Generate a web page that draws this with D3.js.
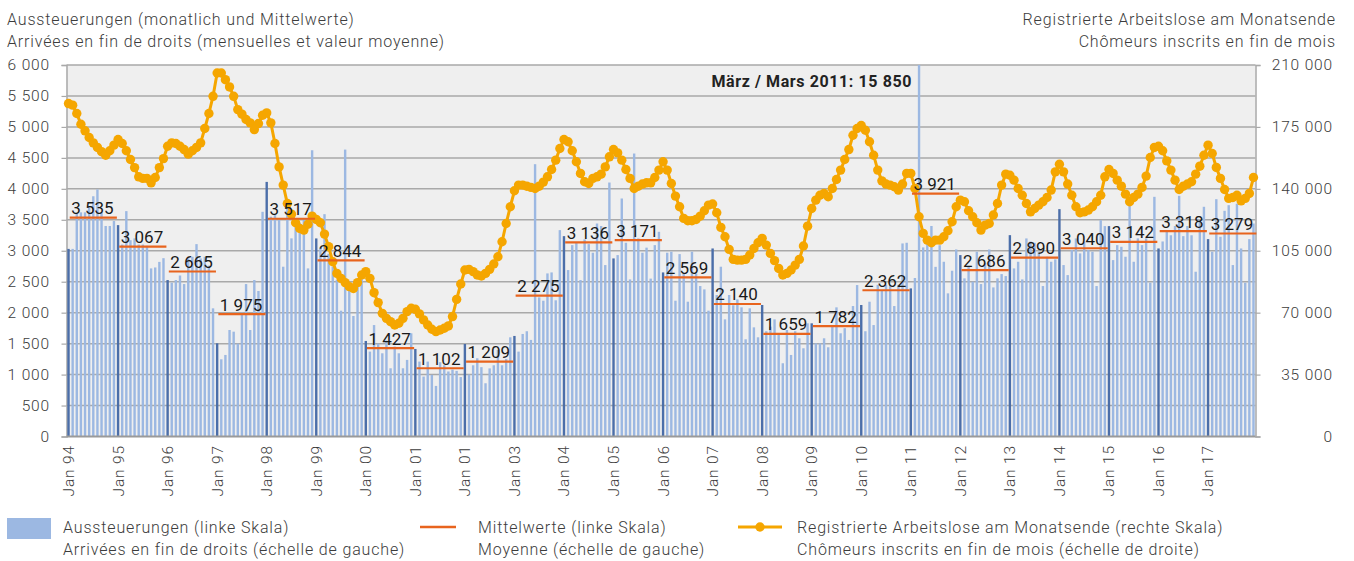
<!DOCTYPE html>
<html>
<head>
<meta charset="utf-8">
<script src="https://cdn.jsdelivr.net/npm/d3@7"></script>
<style>
  body { margin: 0; background: #fff; }
  svg text { font-family: Roboto, "Noto Sans", sans-serif; }
</style>
</head>
<body>
<div class="vis-chart"></div>
<script>
// x tick labels (one per January, as printed in the source)
const tickLabels = ["Jan 94", "Jan 95", "Jan 96", "Jan 97", "Jan 98", "Jan 99", "Jan 00", "Jan 01",
    "Jan 01", "Jan 03", "Jan 04", "Jan 05", "Jan 06", "Jan 07", "Jan 08", "Jan 09", "Jan 10",
    "Jan 11", "Jan 12", "Jan 13", "Jan 14", "Jan 15", "Jan 16", "Jan 17"];

// Aussteuerungen, monthly, Jan 1994 - Dec 2017 (one row per year)
const aussteuerungen = [
    3030, 3030, 3600, 3620, 3620, 3700, 3880, 3990, 3620, 3400, 3400, 3480,
    3414, 3100, 3640, 3170, 3200, 3100, 3100, 3080, 2715, 2730, 2820, 2880,
    2527, 2484, 2527, 2600, 2462, 2876, 2903, 3107, 2876, 2903, 2760, 2070,
    1505, 1247, 1317, 1720, 1693, 1500, 2000, 2462, 1720, 2527, 2350, 3629,
    4112, 3550, 3575, 3500, 2742, 3700, 3200, 3400, 3450, 3500, 2715, 4623,
    3199, 3050, 3591, 2950, 2742, 2527, 2032, 4634, 2365, 1946, 2450, 2600,
    1543, 1371, 1800, 1500, 1344, 1550, 1102, 1452, 1344, 1102, 1237, 1667,
    1414, 1210, 968, 1210, 995, 817, 1200, 1150, 1050, 1080, 1060, 960,
    1494, 1000, 1150, 1263, 1120, 860, 1100, 1150, 1398, 1150, 1250, 1602,
    1624, 1371, 1656, 1700, 1560, 4398, 2247, 2193, 2634, 2650, 2200, 3333,
    3236, 2688, 3091, 3129, 2527, 3183, 3107, 2968, 3440, 3400, 2769, 4102,
    2876, 2930, 3844, 3129, 2537, 4570, 3199, 2968, 3050, 2550, 3091, 3306,
    2650, 2968, 2984, 2193, 2946, 2634, 2177, 2984, 2634, 2430, 2376, 2032,
    3037, 2285, 2742, 1892, 2285, 2120, 2215, 2086, 1570, 2070, 1763, 1602,
    2124, 1700, 1774, 1892, 1656, 1183, 1720, 1317, 1700, 1586, 1425, 1828,
    1828, 1505, 1505, 1586, 1441, 1800, 2086, 1667, 1750, 1559, 2107, 2446,
    2124, 1700, 2177, 1800, 2450, 2365, 2450, 2450, 2107, 2450, 3118, 3129,
    2392, 2560, 15850, 3054, 3129, 3400, 2740, 3090, 2822, 2312, 2677, 3021,
    2930, 2554, 2752, 2500, 2984, 2462, 2800, 3021, 2408, 2554, 2623, 2591,
    3252, 2715, 2822, 2537, 3199, 3150, 3129, 2984, 2430, 2903, 2822, 2860,
    3672, 2769, 2607, 3011, 3199, 2957, 3145, 3011, 2984, 2430, 3494, 3398,
    3398, 2849, 3091, 3064, 2903, 3726, 2822, 3200, 3091, 3200, 2484, 3871,
    3037, 3150, 3306, 3250, 3400, 3887, 3236, 3400, 3250, 2661, 3505, 3710,
    3188, 2984, 3833, 3226, 3645, 3736, 2769, 3760, 3037, 2484, 3188, 3440
];

// yearly means (Mittelwerte)
const mittelwerte = [3535, 3067, 2665, 1975, 3517, 2844, 1427, 1102, 1209, 2275, 3136, 3171,
    2569, 2140, 1659, 1782, 2362, 3921, 2686, 2890, 3040, 3142, 3318, 3279];

// registrierte Arbeitslose am Monatsende
const arbeitslose = [
    188200, 187300, 182600, 176500, 172800, 169000, 166000, 163400, 161000, 159000, 161500, 164700,
    167900, 165600, 161500, 156600, 152000, 146800, 145900, 145900, 143400, 146400, 152000, 157100,
    164100, 166000, 165600, 164100, 162200, 159600, 161500, 163400, 166000, 174100, 182600, 192300,
    205500, 205500, 201700, 197600, 192300, 184800, 182200, 179200, 177300, 173500, 176900, 181600,
    182900, 177300, 165600, 152400, 142100, 131700, 125700, 120800, 117600, 116700, 120000, 124600,
    122700, 120800, 114400, 107300, 98800, 92200, 89400, 87000, 84700, 83700, 87000, 91300,
    93200, 89400, 81300, 75700, 69600, 66800, 64900, 63000, 64000, 66800, 70600, 72500,
    71900, 69300, 65900, 63000, 60600, 59300, 60200, 61200, 62500, 67800, 77500, 86200,
    94100, 94500, 93200, 91300, 90700, 92200, 94500, 97500, 101600, 110100, 120400, 129900,
    138900, 142100, 142100, 141500, 140800, 140200, 141500, 143800, 146800, 150900, 156200, 162800,
    167900, 166600, 161500, 155300, 148700, 144000, 143000, 145900, 146800, 148300, 152400, 158100,
    162200, 160300, 156200, 150900, 145900, 140200, 141500, 142700, 143400, 143400, 146400, 150600,
    155300, 150600, 143000, 135900, 129900, 123300, 122000, 122000, 122700, 124600, 127600, 130800,
    131400, 126500, 118200, 112900, 105800, 100100, 99700, 99700, 100100, 102600, 106300, 109500,
    112000, 108200, 103500, 99400, 95000, 91300, 92200, 94100, 96900, 100100, 107700, 118900,
    128900, 133600, 136400, 137400, 135500, 140200, 145300, 150600, 156600, 162200, 170300, 174100,
    175800, 173100, 166600, 159000, 150600, 144500, 142700, 142100, 141200, 139300, 142700, 148700,
    148700, 140200, 124200, 114800, 111000, 109500, 111000, 111000, 112900, 116300, 121400, 129900,
    133600, 132700, 127600, 124200, 120800, 116700, 119500, 120400, 125200, 131700, 142100, 148300,
    147700, 144900, 140200, 136400, 131700, 127000, 128900, 130800, 132700, 135100, 139300, 149600,
    153900, 149600, 142700, 136400, 129900, 126500, 127000, 128000, 129900, 132700, 136400, 146800,
    150900, 148700, 144900, 141500, 137000, 132700, 135100, 137000, 140800, 147200, 157700, 163400,
    164100, 161500, 155800, 150600, 144900, 139600, 141500, 142700, 144000, 148300, 152800, 159000,
    164700, 160000, 152100, 145900, 139600, 134600, 135100, 136400, 133200, 134600, 137400, 146400
];

const noteText = "März / Mars 2011: 15 850";

const config = {
    width: 1354, height: 561,
    left: 66.5, right: 1255.5, top: 65, bottom: 436.5,
    bar: "#9cb8e2", barJan: "#4b6ea9", mean: "#e8641e", line: "#f5a600",
    grid: "#a9a9a9", bg: "#efefef", text: "#3c3c3c",
    spacing: "0.85px"
};

const fmt = d3.formatLocale({ decimal: ".", thousands: " ", grouping: [3], currency: ["", ""] }).format(",d");

const svg = d3.select(".vis-chart")
    .append("svg")
    .attr("width", config.width)
    .attr("height", config.height);

const n = aussteuerungen.length;
const x = d3.scaleBand()
    .domain(d3.range(n))
    .range([config.left, config.right])
    .paddingInner(0.42)
    .paddingOuter(0.2);
const bw = x.bandwidth();
const cx = i => x(i) + bw / 2;
const yL = d3.scaleLinear().domain([0, 6000]).range([config.bottom, config.top]);
const yR = d3.scaleLinear().domain([0, 210000]).range([config.bottom, config.top]);

// plot area
svg.append("rect")
    .attr("x", config.left)
    .attr("y", config.top)
    .attr("width", config.right - config.left)
    .attr("height", config.bottom - config.top)
    .attr("fill", config.bg);

svg.append("clipPath").attr("id", "plot-clip")
    .append("rect")
    .attr("x", config.left)
    .attr("y", config.top)
    .attr("width", config.right - config.left)
    .attr("height", config.bottom - config.top);

// gridlines
svg.append("g")
    .selectAll("line")
    .data(d3.range(500, 6001, 500))
    .join("line")
    .attr("x1", config.left)
    .attr("x2", config.right)
    .attr("y1", d => yL(d))
    .attr("y2", d => yL(d))
    .attr("stroke", config.grid)
    .attr("stroke-width", 1.5);

// left axis
const axL = svg.append("g")
    .attr("transform", `translate(${config.left},0)`)
    .call(d3.axisLeft(yL).tickValues(d3.range(0, 6001, 500)).tickFormat(fmt).tickSize(5).tickPadding(11.5));
// right axis
const axR = svg.append("g")
    .attr("transform", `translate(${config.right},0)`)
    .call(d3.axisRight(yR).tickValues(d3.range(0, 210001, 35000)).tickFormat(fmt).tickSize(5));
axR.selectAll("text").attr("text-anchor", "end").attr("x", 1333 - config.right);

[axL, axR].forEach(ax => {
    ax.select(".domain").attr("stroke", config.grid).attr("stroke-width", 1.5);
    ax.selectAll(".tick line").attr("stroke", config.grid).attr("stroke-width", 1.2);
    ax.selectAll("text")
        .attr("font-size", "15.5px")
        .attr("font-family", "Roboto")
        .attr("font-weight", 300)
        .attr("letter-spacing", config.spacing)
        .attr("fill", config.text);
});

// bars
svg.append("g")
    .attr("clip-path", "url(#plot-clip)")
    .selectAll("rect")
    .data(aussteuerungen)
    .join("rect")
    .attr("x", (d, i) => x(i))
    .attr("y", d => yL(d))
    .attr("width", bw)
    .attr("height", d => config.bottom - yL(d))
    .attr("fill", (d, i) => i % 12 === 0 ? config.barJan : config.bar);

// bottom axis line
svg.append("line")
    .attr("x1", config.left)
    .attr("x2", config.right)
    .attr("y1", config.bottom)
    .attr("y2", config.bottom)
    .attr("stroke", "#9a9a9a")
    .attr("stroke-width", 2);

// unemployed line
const line = d3.line()
    .x((d, i) => cx(i))
    .y(d => yR(d));

svg.append("path")
    .datum(arbeitslose)
    .attr("d", line)
    .attr("fill", "none")
    .attr("stroke", config.line)
    .attr("stroke-width", 3);

svg.append("g")
    .selectAll("circle")
    .data(arbeitslose)
    .join("circle")
    .attr("cx", (d, i) => cx(i))
    .attr("cy", d => yR(d))
    .attr("r", 4.7)
    .attr("fill", config.line);

// yearly means
const means = svg.append("g");
means.selectAll("line")
    .data(mittelwerte)
    .join("line")
    .attr("x1", (d, k) => x(k * 12) + bw)
    .attr("x2", (d, k) => x(k * 12 + 11) + x.step())
    .attr("y1", d => yL(d))
    .attr("y2", d => yL(d))
    .attr("stroke", config.mean)
    .attr("stroke-width", 2.2);

means.selectAll("text")
    .data(mittelwerte)
    .join("text")
    .attr("x", (d, k) => x(k * 12) + bw + 1.5)
    .attr("y", d => yL(d) - 3.5)
    .attr("font-size", "17px")
    .attr("fill", "#1a1a1a")
    .text(d => fmt(d));

// note for the March 2011 outlier
svg.append("text")
    .attr("x", 912)
    .attr("y", 87)
    .attr("text-anchor", "end")
    .attr("font-size", "16px")
    .attr("font-weight", 700)
    .attr("letter-spacing", "0.6px")
    .attr("fill", "#222")
    .text(noteText);

// x labels
svg.append("g")
    .selectAll("text")
    .data(tickLabels)
    .join("text")
    .attr("transform", (d, k) => `translate(${cx(k * 12)},445) rotate(-90)`)
    .attr("dy", "0.35em")
    .attr("text-anchor", "end")
    .attr("font-size", "15.5px")
    .attr("font-weight", 300)
    .attr("letter-spacing", config.spacing)
    .attr("fill", config.text)
    .text(d => d);

// titles
const titles = [
    { x: 7, anchor: "start", lines: ["Aussteuerungen (monatlich und Mittelwerte)", "Arrivées en fin de droits (mensuelles et valeur moyenne)"] },
    { x: 1336, anchor: "end", lines: ["Registrierte Arbeitslose am Monatsende", "Chômeurs inscrits en fin de mois"] }
];
titles.forEach(t => {
    svg.append("g").selectAll("text")
        .data(t.lines)
        .join("text")
        .attr("x", t.x)
        .attr("y", (d, i) => 25 + i * 22)
        .attr("text-anchor", t.anchor)
        .attr("font-size", "16px")
        .attr("font-weight", 300)
        .attr("letter-spacing", config.spacing)
        .attr("fill", config.text)
        .text(d => d);
});

// legend
const legend = svg.append("g");
legend.append("rect")
    .attr("x", 7).attr("y", 518)
    .attr("width", 44).attr("height", 21)
    .attr("fill", config.bar);
legend.append("line")
    .attr("x1", 420).attr("x2", 456)
    .attr("y1", 527).attr("y2", 527)
    .attr("stroke", config.mean).attr("stroke-width", 2.5);
legend.append("line")
    .attr("x1", 738).attr("x2", 782)
    .attr("y1", 527).attr("y2", 527)
    .attr("stroke", config.line).attr("stroke-width", 3);
legend.append("circle")
    .attr("cx", 760).attr("cy", 527).attr("r", 4.7)
    .attr("fill", config.line);

const legendItems = [
    { x: 63, lines: ["Aussteuerungen (linke Skala)", "Arrivées en fin de droits (échelle de gauche)"] },
    { x: 478, lines: ["Mittelwerte (linke Skala)", "Moyenne (échelle de gauche)"] },
    { x: 797, lines: ["Registrierte Arbeitslose am Monatsende (rechte Skala)", "Chômeurs inscrits en fin de mois (échelle de droite)"] }
];
legendItems.forEach(item => {
    legend.append("g").selectAll("text")
        .data(item.lines)
        .join("text")
        .attr("x", item.x)
        .attr("y", (d, i) => 533 + i * 22)
        .attr("font-size", "16px")
        .attr("font-weight", 300)
        .attr("letter-spacing", config.spacing)
        .attr("fill", config.text)
        .text(d => d);
});
</script>
</body>
</html>
